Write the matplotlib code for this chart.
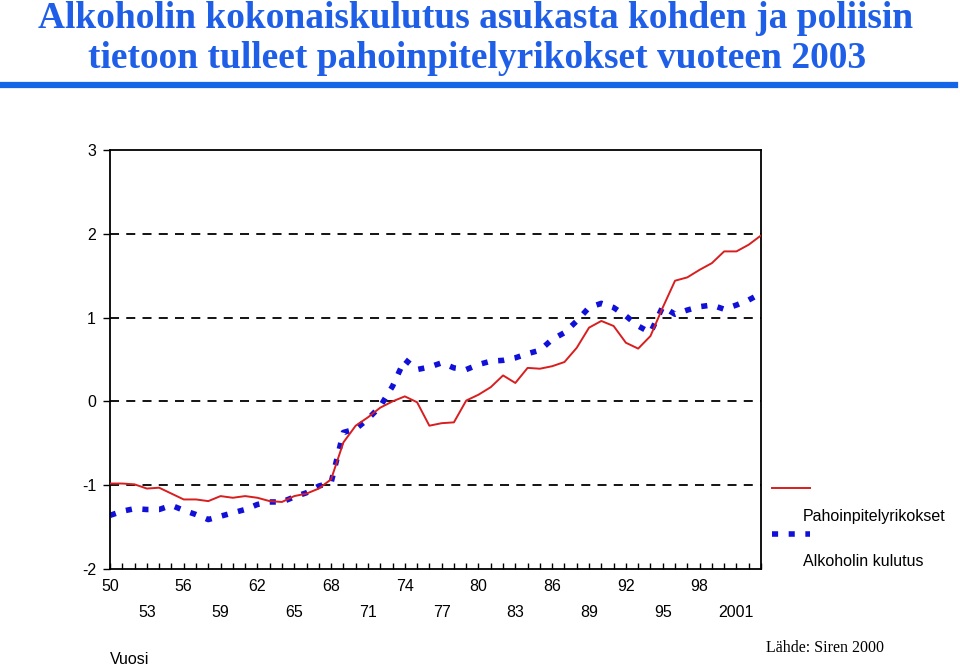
import matplotlib
matplotlib.use("Agg")
import matplotlib.pyplot as plt
from matplotlib.lines import Line2D

years = list(range(1950, 2004))
pahoinpitely = [-0.98, -0.98, -0.99, -1.04, -1.03, -1.10, -1.17, -1.17, -1.19, -1.13,
                -1.15, -1.13, -1.15, -1.19, -1.20, -1.13, -1.10, -1.04, -0.93, -0.49,
                -0.29, -0.19, -0.075, 0.0, 0.06, -0.01, -0.29, -0.26, -0.25, 0.01,
                0.08, 0.17, 0.31, 0.22, 0.40, 0.39, 0.42, 0.47, 0.64, 0.88,
                0.96, 0.90, 0.70, 0.63, 0.78, 1.12, 1.44, 1.48, 1.57, 1.65,
                1.79, 1.79, 1.87, 1.98]
alkoholi = [-1.36, -1.31, -1.28, -1.29, -1.29, -1.24, -1.30, -1.35, -1.41, -1.37,
            -1.33, -1.29, -1.23, -1.20, -1.20, -1.14, -1.09, -1.01, -0.97, -0.37,
            -0.33, -0.21, -0.06, 0.18, 0.50, 0.38, 0.41, 0.46, 0.40, 0.38,
            0.44, 0.48, 0.49, 0.52, 0.57, 0.61, 0.74, 0.82, 0.96, 1.12,
            1.17, 1.12, 1.02, 0.90, 0.82, 1.13, 1.04, 1.09, 1.13, 1.15,
            1.10, 1.15, 1.21, 1.29]
yticks = [-2, -1, 0, 1, 2, 3]
grid_levels = [-1, 0, 1, 2]
series_names = ["Pahoinpitelyrikokset", "Alkoholin kulutus"]
title_lines = ["Alkoholin kokonaiskulutus asukasta kohden ja poliisin",
               "tietoon tulleet pahoinpitelyrikokset vuoteen 2003"]

RED = "#d81e1e"
BLUE = "#1010d8"
TBLUE = "#1f5fe8"
FS = 11.5

fig = plt.figure(figsize=(9.6, 6.66), dpi=100)
ax = fig.add_axes([110/960, 1-569/666, (761-110)/960, (569-150)/666])

for g in grid_levels:
    ax.axhline(g, color="black", lw=1.3, ls=(0, (5, 4)), zorder=1)

ax.plot(years, pahoinpitely, color=RED, lw=1.4, zorder=3)
ax.plot(years, alkoholi, color=BLUE, lw=4, ls=(0, (1.1, 1.9)), zorder=2,
        solid_capstyle="butt", dash_capstyle="butt")

ax.set_xlim(1950, 2003)
ax.set_ylim(-2, 3)
ax.set_yticks(yticks)
ax.set_yticklabels([str(v) for v in yticks], fontsize=FS, family="Liberation Sans")
ax.tick_params(axis="y", direction="out", length=5, width=1, pad=5)

ax.set_xticks(years)
labels = []
for y in years:
    if (y - 1950) % 3 == 0 and y <= 2001:
        idx = (y - 1950) // 3
        s = str(y) if y >= 2000 else "%02d" % (y % 100)
        labels.append(s if idx % 2 == 0 else "\n" + s)
    else:
        labels.append("")
ax.set_xticklabels(labels, fontsize=FS, family="Liberation Sans", linespacing=1.95)
ax.tick_params(axis="x", direction="in", length=4, width=1, pad=7)
for sp in ax.spines.values():
    sp.set_linewidth(1.3)

# Legend drawn manually to the right
fig.add_artist(Line2D([772/960, 810/960], [1-488/666, 1-488/666], color=RED, lw=1.4))
fig.add_artist(Line2D([772/960, 810/960], [1-534/666, 1-534/666], color=BLUE, lw=4,
                      ls=(0, (1.1, 1.9))))
fig.text(803/960, 1-516/666, series_names[0], fontsize=FS, family="Liberation Sans",
         va="center", ha="left")
fig.text(803/960, 1-561/666, series_names[1], fontsize=FS, family="Liberation Sans",
         va="center", ha="left")

# Title
fig.text(0.495, 1-19/666, title_lines[0], fontsize=27, family="Liberation Serif",
         weight="bold", color=TBLUE, ha="center", va="center")
fig.text(0.497, 1-59/666, title_lines[1], fontsize=27, family="Liberation Serif",
         weight="bold", color=TBLUE, ha="center", va="center")
fig.add_artist(Line2D([0, 955/960], [1-85/666, 1-85/666], color="#1466e6", lw=4.5))

fig.text(110/960, 1-659/666, "Vuosi", fontsize=FS, family="Liberation Sans",
         va="center", ha="left")
fig.text(766/960, 1-648/666, "Lähde: Siren 2000", fontsize=11.5, family="Liberation Serif",
         va="center", ha="left")

fig.savefig("out.png", dpi=100)
